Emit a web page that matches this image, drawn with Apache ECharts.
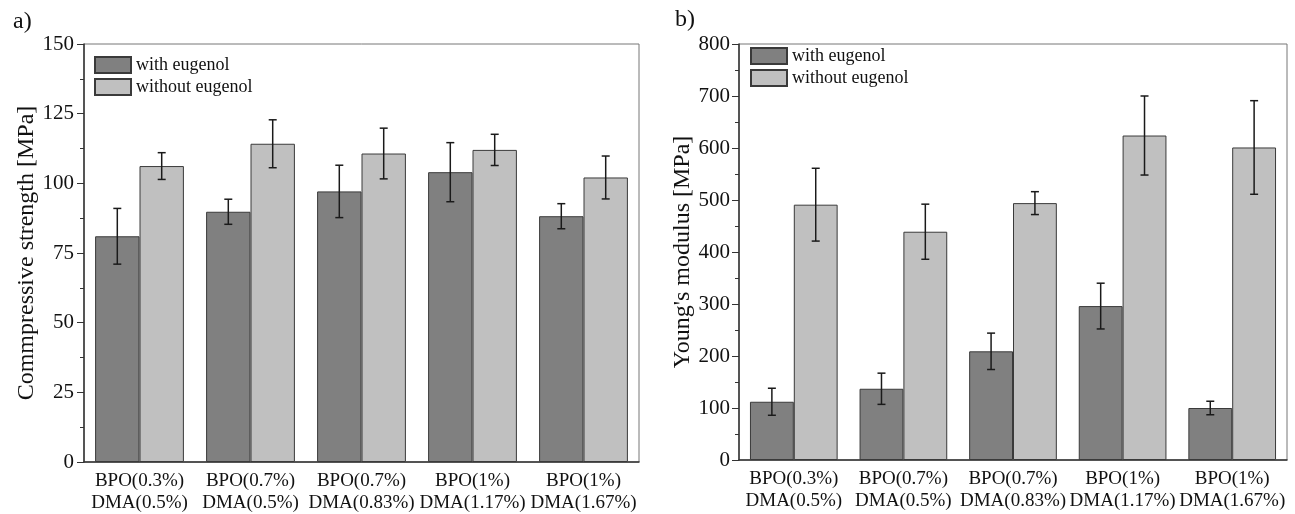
<!DOCTYPE html>
<html>
<head>
<meta charset="utf-8">
<script src="https://cdn.jsdelivr.net/npm/echarts@6/dist/echarts.min.js"></script>
<style>
  html, body { margin: 0; padding: 0; background: #fff; }
  #main { width: 1295px; height: 514px; }
</style>
</head>
<body>
<div id="main"></div>
<script>
// 横轴分组
var categories = ['BPO(0.3%)\nDMA(0.5%)', 'BPO(0.7%)\nDMA(0.5%)', 'BPO(0.7%)\nDMA(0.83%)', 'BPO(1%)\nDMA(1.17%)', 'BPO(1%)\nDMA(1.67%)'];
var seriesNames = ['with eugenol', 'without eugenol'];

// a) 抗压强度 [MPa]
var compWith = [81, 89.8, 97.1, 104, 88.2];
var compWithErr = [10, 4.5, 9.4, 10.6, 4.5];
var compWithout = [106.2, 114.2, 110.7, 112, 102.1];
var compWithoutErr = [4.8, 8.6, 9.1, 5.6, 7.7];

// b) 杨氏模量 [MPa]
var modWith = [112, 137, 209, 296, 100];
var modWithErr = [26, 30, 35, 44, 13];
var modWithout = [491, 439, 494, 624, 601];
var modWithoutErr = [70, 53, 22, 76, 90];

var FONT = 'Liberation Serif';
var DARK = '#808080';
var LIGHT = '#c0c0c0';

function errData(vals, errs) {
  return vals.map(function (v, i) { return [i, v - errs[i], v + errs[i]]; });
}

// 误差棒，side = -1 左边的柱子, 1 右边的柱子
function errSeries(name, idx, side, vals, errs) {
  return {
    name: name,
    type: 'custom',
    xAxisIndex: idx,
    yAxisIndex: idx,
    z: 5,
    silent: true,
    data: errData(vals, errs),
    encode: { x: 0, y: [1, 2] },
    renderItem: function (params, api) {
      var band = api.size([1, 0])[0];
      var lo = api.coord([api.value(0), api.value(1)]);
      var hi = api.coord([api.value(0), api.value(2)]);
      var x = lo[0] + side * band * 0.2;
      var cap = 4;
      var st = { stroke: '#1a1a1a', lineWidth: 1.5 };
      return {
        type: 'group',
        children: [
          { type: 'line', shape: { x1: x, y1: lo[1], x2: x, y2: hi[1] }, style: st },
          { type: 'line', shape: { x1: x - cap, y1: lo[1], x2: x + cap, y2: lo[1] }, style: st },
          { type: 'line', shape: { x1: x - cap, y1: hi[1], x2: x + cap, y2: hi[1] }, style: st }
        ]
      };
    }
  };
}

function barSeries(name, idx, vals, color) {
  return {
    name: name,
    type: 'bar',
    xAxisIndex: idx,
    yAxisIndex: idx,
    barWidth: '40%',
    barGap: '0%',
    data: vals,
    itemStyle: { color: color, borderColor: '#3a3a3a', borderWidth: 1 }
  };
}

function xAxisCfg(idx) {
  return {
    type: 'category',
    gridIndex: idx,
    data: categories,
    axisLine: { lineStyle: { color: '#333', width: 1.5 } },
    axisTick: { show: false },
    axisLabel: { interval: 0, fontFamily: FONT, fontSize: 19, color: '#111', lineHeight: 22, margin: 8 }
  };
}

function yAxisCfg(idx, name, max, interval, gap, margin) {
  return {
    type: 'value',
    gridIndex: idx,
    min: 0,
    max: max,
    interval: interval,
    name: name,
    nameLocation: 'middle',
    nameGap: gap,
    nameTextStyle: { fontFamily: FONT, fontSize: 24, color: '#111' },
    axisLine: { show: true, lineStyle: { color: '#333', width: 1.5 } },
    axisTick: { show: true, length: 7, lineStyle: { color: '#333' } },
    minorTick: { show: true, splitNumber: 2, length: 4, lineStyle: { color: '#333' } },
    splitLine: { show: false },
    axisLabel: { fontFamily: FONT, fontSize: 21, color: '#111', margin: margin }
  };
}

function legendCfg(left, top) {
  return {
    left: left,
    top: top,
    orient: 'vertical',
    data: seriesNames,
    icon: 'rect',
    itemWidth: 36,
    itemHeight: 16,
    itemGap: 4,
    textStyle: { fontFamily: FONT, fontSize: 18, color: '#111' }
  };
}

var chart = echarts.init(document.getElementById('main'));
var option = {
  animation: false,
  backgroundColor: '#fff',
  title: [
    { text: 'a)', left: 8, top: 5, textStyle: { fontFamily: FONT, fontSize: 24, fontWeight: 'normal', color: '#111' } },
    { text: 'b)', left: 670, top: 3, textStyle: { fontFamily: FONT, fontSize: 24, fontWeight: 'normal', color: '#111' } }
  ],
  legend: [legendCfg(89, 51), legendCfg(745, 42)],
  grid: [
    { left: 84, right: 656, top: 44, bottom: 49, show: true, borderColor: '#777', borderWidth: 1 },
    { left: 739, right: 8, top: 44, bottom: 54, show: true, borderColor: '#777', borderWidth: 1 }
  ],
  xAxis: [xAxisCfg(0), xAxisCfg(1)],
  yAxis: [
    yAxisCfg(0, 'Commpressive strength [MPa]', 150, 25, 40, 10),
    yAxisCfg(1, "Young's modulus [MPa]", 800, 100, 44, 9)
  ],
  series: [
    barSeries(seriesNames[0], 0, compWith, DARK),
    barSeries(seriesNames[1], 0, compWithout, LIGHT),
    barSeries(seriesNames[0], 1, modWith, DARK),
    barSeries(seriesNames[1], 1, modWithout, LIGHT),
    errSeries('err a1', 0, -1, compWith, compWithErr),
    errSeries('err a2', 0, 1, compWithout, compWithoutErr),
    errSeries('err b1', 1, -1, modWith, modWithErr),
    errSeries('err b2', 1, 1, modWithout, modWithoutErr)
  ]
};
chart.setOption(option);
</script>
</body>
</html>
